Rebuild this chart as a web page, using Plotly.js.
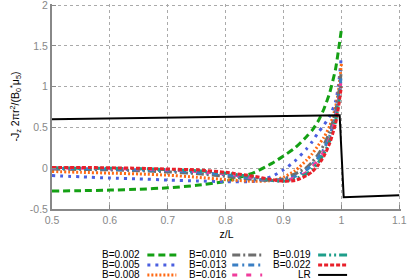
<!DOCTYPE html>
<html><head><meta charset="utf-8">
<script src="https://cdn.plot.ly/plotly-3.0.1.min.js"></script>
<style>html,body{margin:0;padding:0;background:#fff}#c{width:407px;height:280px}</style>
</head><body><div id="c"></div>
<script>
const xs = [0.5,0.55,0.6,0.65,0.7,0.75,0.8,0.85,0.88,0.9,0.92,0.94,0.95,0.96,0.97,0.98,0.99,0.995,1.0];
const b002 = [-0.28,-0.275,-0.268,-0.258,-0.24,-0.21,-0.16,-0.05,0.06,0.15,0.25,0.39,0.47,0.58,0.73,0.93,1.22,1.45,1.70];
const b005 = [-0.09,-0.105,-0.12,-0.13,-0.145,-0.155,-0.165,-0.16,-0.10,-0.02,0.09,0.24,0.33,0.44,0.53,0.64,0.82,1.02,1.38];
const b008 = [-0.04,-0.05,-0.06,-0.07,-0.085,-0.11,-0.14,-0.16,-0.15,-0.11,-0.03,0.10,0.18,0.28,0.38,0.52,0.75,0.95,1.28];
const b010 = [-0.01,-0.015,-0.02,-0.03,-0.045,-0.065,-0.10,-0.14,-0.15,-0.13,-0.07,0.01,0.08,0.17,0.29,0.45,0.70,0.90,1.20];
const b013 = [0.0,-0.005,-0.01,-0.02,-0.03,-0.05,-0.08,-0.13,-0.15,-0.14,-0.10,-0.02,0.05,0.13,0.24,0.40,0.65,0.85,1.15];
const b016 = [0.0,0.0,-0.005,-0.01,-0.02,-0.04,-0.07,-0.12,-0.15,-0.15,-0.12,-0.05,0.02,0.10,0.21,0.37,0.62,0.82,1.10];
const b019 = [0.005,0.0,0.0,-0.005,-0.015,-0.03,-0.06,-0.11,-0.15,-0.16,-0.13,-0.07,-0.01,0.07,0.18,0.34,0.58,0.78,1.05];
const b022 = [0.01,0.01,0.005,0.0,-0.01,-0.02,-0.05,-0.10,-0.14,-0.16,-0.15,-0.09,-0.04,0.04,0.15,0.31,0.55,0.75,1.00];
const lrX = [0.5,0.997,1.004,1.1];
const lrY = [0.60,0.65,-0.355,-0.33];
const names = ['B=0.002','B=0.005','B=0.008','B=0.010','B=0.013','B=0.016','B=0.019','B=0.022','LR'];
const xTicks = [0.5,0.6,0.7,0.8,0.9,1,1.1];
const xTickText = ['0.5','0.6','0.7','0.8','0.9','1','1.1'];
const yTicks = [-0.5,0,0.5,1,1.5,2];
const yTickText = ['-0.5','0','0.5','1','1.5','2'];

const series = [b002,b005,b008,b010,b013,b016,b019,b022];
const colors = ['#14a014','#4a5fe0','#ff6a14','#6e6e6e','#3a7fc4','#f03c9c','#1e9e8a','#e8202a','#000000'];
const dashes = ['7px,4px','3px,5px','2px,2px','8px,3px,2px,3px','6px,4px,2px,4px','5px,9px','8px,3px,2px,3px,2px,3px','4px,2px','solid'];

const traces = series.map((s,i)=>({x:xs,y:s,type:'scatter',mode:'lines',name:names[i],
  line:{color:colors[i],width:3,dash:dashes[i],shape:'spline',smoothing:0.6},showlegend:false}));
traces.push({x:lrX,y:lrY,type:'scatter',mode:'lines',name:'LR',line:{color:'#000',width:2},showlegend:false});

// plot area in pixels (x 0.5..1.103, y -0.5..2.015)
const L=51.5, R=401, T=3.8, B=209;
const px=(p)=>(p-L)/(R-L), py=(p)=>(B-p)/(B-T);
const colText=[141,228,312], colLine=[[147,176],[232,262],[318,347]], rowY=[255,265,275];
const shapes=[], annotations=[];
names.forEach((n,i)=>{
  const c=Math.floor(i/3), r=i%3;
  shapes.push({type:'line',xref:'paper',yref:'paper',x0:px(colLine[c][0]),x1:px(colLine[c][1]),y0:py(rowY[r]),y1:py(rowY[r]),
    line:{color:colors[i],width:i===8?2:3,dash:dashes[i]}});
  annotations.push({xref:'paper',yref:'paper',x:px(colText[c]),y:py(rowY[r]),text:n,showarrow:false,xanchor:'right',yanchor:'middle',
    borderpad:0,font:{size:10,color:'#000'}});
});

const layout={
  width:407,height:280,
  margin:{l:51.5,r:6,t:3.8,b:71},
  paper_bgcolor:'#fff',plot_bgcolor:'#fff',
  font:{family:'"Liberation Sans", Arial, sans-serif',size:10.5,color:'#888'},
  showlegend:false,
  xaxis:{range:[0.5,1.103],tickvals:xTicks,ticktext:xTickText,showline:true,linecolor:'#888',linewidth:2,
    ticks:'inside',ticklen:4,tickcolor:'#888',showgrid:true,gridcolor:'#aaa',griddash:'dot',gridwidth:1,zeroline:false,
    ticklabeloverflow:'allow',
    tickfont:{size:10.5,color:'#888'},title:{text:'z/L',font:{size:10.5,color:'#000'},standoff:6}},
  yaxis:{range:[-0.5,2.015],tickvals:yTicks,ticktext:yTickText,showline:true,linecolor:'#888',linewidth:2,
    ticks:'inside',ticklen:4,tickcolor:'#888',showgrid:true,gridcolor:'#aaa',griddash:'dot',gridwidth:1,zeroline:false,
    ticklabeloverflow:'allow',
    tickfont:{size:10.5,color:'#888'},
    title:{text:'-J<sub>z</sub> 2πr<sup>2</sup>/(B<sub>0</sub><sup>*</sup>μ<sub>5</sub>)',font:{size:10.5,color:'#000'},standoff:8}},
  shapes:shapes,annotations:annotations
};
Plotly.newPlot('c',traces,layout,{displayModeBar:false,staticPlot:true});
</script></body></html>
